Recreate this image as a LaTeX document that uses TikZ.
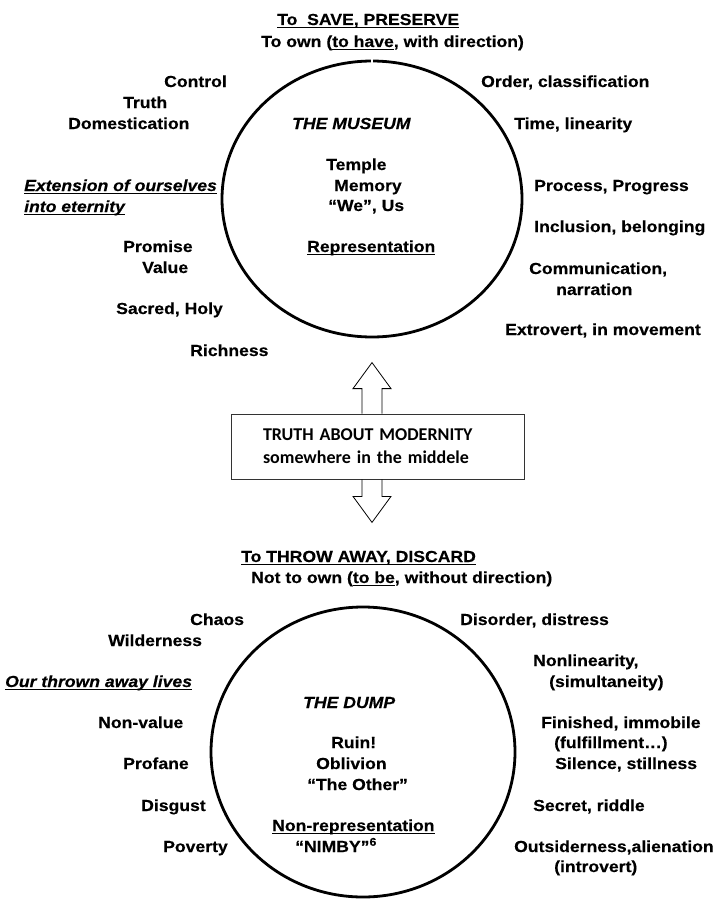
\documentclass[tikz,border=0pt]{standalone}
\usepackage{fontspec}
\setmainfont[FakeStretch=1.1, BoldFeatures={FakeBold=0.35},
  BoldItalicFeatures={FakeBold=0.35}]{Liberation Sans}
\newfontfamily\boxfont{Carlito}
\newcommand{\undr}[1]{\setbox0\hbox{#1}\rlap{\vrule width\wd0 height -2pt depth 3.3pt}\box0}
\usetikzlibrary{calc}

\begin{document}
\begin{tikzpicture}[x=1pt, y=-1pt,
    lbl/.style={anchor=base west, inner sep=0pt,
                font=\fontsize{16}{19}\selectfont\bfseries},
    ring/.style={line width=2.8pt},
    hollow/.style={draw=black, line width=0.8pt, line join=miter}]
  \useasboundingbox (0,0) rectangle (723,899);

  \draw [ring] (372,199) ++(-89.6:150 and 138)
        arc [start angle=-89.6, end angle=269.6, x radius=150, y radius=138];
  \draw [ring] (363,752) ellipse [x radius=152, y radius=145];

  \node [lbl] (save) at (277,25) {\undr{To\ \ SAVE, PRESERVE}};
  \node [lbl] (own) at (261,47) {To own (\undr{to have}, with direction)};
  \node [lbl] (control) at (164,87) {Control};
  \node [lbl] (truth) at (123,108) {Truth};
  \node [lbl] (domest) at (68,129) {Domestication};
  \node [lbl] (extend) at (24,191) {\itshape\undr{Extension of ourselves}};
  \node [lbl] (etern) at (24,212) {\itshape\undr{into eternity}};
  \node [lbl] (promise) at (123,252) {Promise};
  \node [lbl] (value) at (142,273) {Value};
  \node [lbl] (sacred) at (116,314) {Sacred, Holy};
  \node [lbl] (rich) at (190,356) {Richness};
  \node [lbl] (museum) at (292,129) {\itshape THE MUSEUM};
  \node [lbl] (temple) at (326,170) {Temple};
  \node [lbl] (memory) at (334,191) {Memory};
  \node [lbl] (we) at (328,211) {“We”, Us};
  \node [lbl] (repr) at (307,252) {\undr{Representation}};
  \node [lbl] (order) at (481,87) {Order, classification};
  \node [lbl] (time) at (514,129) {Time, linearity};
  \node [lbl] (process) at (534,191) {Process, Progress};
  \node [lbl] (incl) at (534,232) {Inclusion, belonging};
  \node [lbl] (comm) at (529,274) {Communication,};
  \node [lbl] (narr) at (556,295) {narration};
  \node [lbl] (extro) at (505,335) {Extrovert, in movement};

  \node [draw=black!80, line width=0.8pt, minimum width=293pt,
         minimum height=65pt, text width=229pt, align=left, inner sep=0pt,
         font=\boxfont\bfseries\fontsize{18}{23}\selectfont]
        (modern) at (377.5,446.5) {TRUTH ABOUT MODERNITY\\somewhere in the middele};
  \draw [hollow] ($(modern.north)+(-15.5,0)$) -- ++(0,-25) -- ++(-9,0)
        -- ++(19,-26) -- ++(19,26) -- ++(-9,0) -- ++(0,25);
  \draw [hollow] ($(modern.south)+(-15.5,0)$) -- ++(0,17) -- ++(-9,0)
        -- ++(19,26) -- ++(19,-26) -- ++(-9,0) -- ++(0,-17);

  \node [lbl] (throw) at (241,562) {\undr{To THROW AWAY, DISCARD}};
  \node [lbl] (notown) at (251,583) {Not to own (\undr{to be}, without direction)};
  \node [lbl] (chaos) at (190,625) {Chaos};
  \node [lbl] (wild) at (108,646) {Wilderness};
  \node [lbl] (lives) at (5,687) {\itshape\undr{Our thrown away lives}};
  \node [lbl] (nonval) at (98,728) {Non-value};
  \node [lbl] (profane) at (123,769) {Profane};
  \node [lbl] (disgust) at (141,811) {Disgust};
  \node [lbl] (poverty) at (163,852) {Poverty};
  \node [lbl] (dump) at (303,708) {\itshape THE DUMP};
  \node [lbl] (ruin) at (331,748) {Ruin!};
  \node [lbl] (oblivion) at (316,769) {Oblivion};
  \node [lbl] (other) at (307,790) {“The Other”};
  \node [lbl] (nonrepr) at (272,831) {\undr{Non-representation}};
  \node [lbl] (nimby) at (295,852) {“NIMBY”\textsuperscript{6}};
  \node [lbl] (disorder) at (460,625) {Disorder, distress};
  \node [lbl] (nonlin) at (533,666) {Nonlinearity,};
  \node [lbl] (simult) at (549,687) {(simultaneity)};
  \node [lbl] (finished) at (541,728) {Finished, immobile};
  \node [lbl] (fulfil) at (554,748) {(fulfillment…)};
  \node [lbl] (silence) at (555,769) {Silence, stillness};
  \node [lbl] (secret) at (533,811) {Secret, riddle};
  \node [lbl] (outside) at (514,852) {Outsiderness,alienation};
  \node [lbl] (introv) at (554,872) {(introvert)};
\end{tikzpicture}
\end{document}
